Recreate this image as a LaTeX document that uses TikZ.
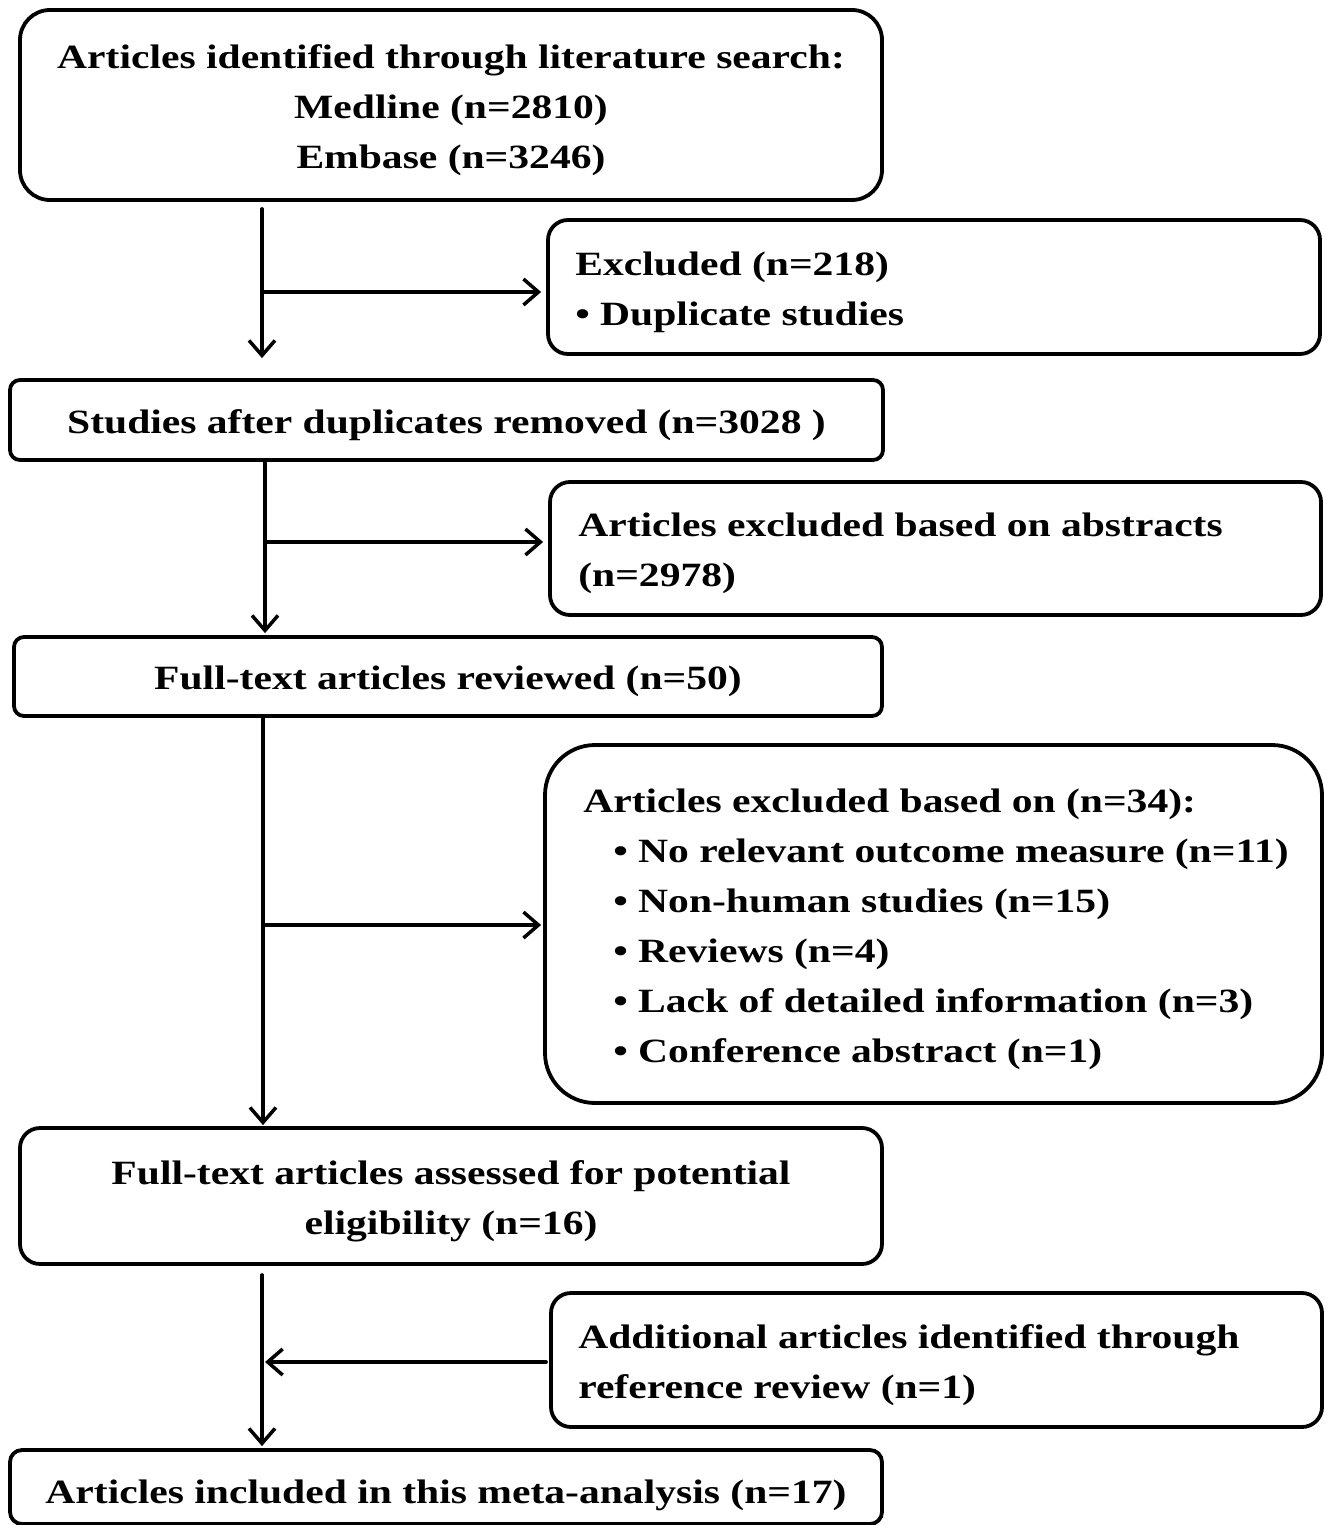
\documentclass[tikz,border=0pt]{standalone}
\usepackage{fontspec}
\setmainfont{Liberation Serif}[FakeStretch=1.223]
\usetikzlibrary{arrows.meta}
\begin{document}
\begin{tikzpicture}[x=1pt,y=-1pt,
  box/.style={draw,line width=3.8pt,inner sep=0pt},
  txt/.style={inner sep=0pt,font=\fontsize{34}{50}\selectfont\bfseries},
  ctxt/.style={txt,align=center,yshift=-5pt},
  ltxt/.style={txt,align=left,anchor=west,yshift=-5pt},
  arr/.style={line width=3.5pt,line cap=round,-{Straight Barb[length=15pt,width=26pt,line width=3.5pt]}}]
\useasboundingbox (0,0) rectangle (1327,1525);
% boxes
\node[box,rounded corners=30pt,minimum width=862pt,minimum height=190pt] (b1) at (451,105) {};
\node[box,rounded corners=20pt,minimum width=772pt,minimum height=134pt] (b2) at (934,287) {};
\node[box,rounded corners=10pt,minimum width=873pt,minimum height=80pt] (b3) at (446.5,420) {};
\node[box,rounded corners=20pt,minimum width=771pt,minimum height=133pt] (b4) at (935.5,548.5) {};
\node[box,rounded corners=10pt,minimum width=868pt,minimum height=79pt] (b5) at (448,676.5) {};
\node[box,rounded corners=50pt,minimum width=777pt,minimum height=358pt] (b6) at (933.5,924) {};
\node[box,rounded corners=20pt,minimum width=862pt,minimum height=136pt] (b7) at (451,1196) {};
\node[box,rounded corners=20pt,minimum width=771pt,minimum height=134pt] (b8) at (936.5,1360) {};
\node[box,rounded corners=12pt,minimum width=872pt,minimum height=74pt] (b9) at (446,1487) {};
% texts
\node[ctxt] (t1) at (b1.center)
  {Articles identified through literature search:\\Medline (n=2810)\\Embase (n=3246)};
\node[ltxt,xshift=29pt] (t2) at (b2.west) {Excluded (n=218)\\• Duplicate studies};
\node[ctxt] (t3) at (b3.center) {Studies after duplicates removed (n=3028 )};
\node[ltxt,xshift=30pt] (t4) at (b4.west) {Articles excluded based on abstracts\\(n=2978)};
\node[ctxt] (t5) at (b5.center) {Full-text articles reviewed (n=50)};
\node[ltxt,xshift=40pt] (t6) at (b6.west)
  {Articles excluded based on (n=34):\\
   \hspace*{30pt}• No relevant outcome measure (n=11)\\
   \hspace*{30pt}• Non-human studies (n=15)\\
   \hspace*{30pt}• Reviews (n=4)\\
   \hspace*{30pt}• Lack of detailed information (n=3)\\
   \hspace*{30pt}• Conference abstract (n=1)};
\node[ctxt] (t7) at (b7.center) {Full-text articles assessed for potential\\eligibility (n=16)};
\node[ltxt,xshift=29pt] (t8) at (b8.west) {Additional articles identified through\\reference review (n=1)};
\node[ctxt,yshift=-3pt] (t9) at (b9.center) {Articles included in this meta-analysis (n=17)};
% junctions
\coordinate (j1) at (262,292);
\coordinate (j2) at (265,542);
\coordinate (j3) at (263,925);
\coordinate (j4) at (265,1362);
\draw[arr,shorten <=7pt,shorten >=20pt] (b1.south -| j1) -- (b3.north -| j1);
\draw[arr,shorten >=5pt] (j1) -- (b2.west |- j1);
\draw[arr,shorten >=2pt] (b3.south -| j2) -- (b5.north -| j2);
\draw[arr,shorten >=5pt] (j2) -- (b4.west |- j2);
\draw[arr,shorten >=1pt] (b5.south -| j3) -- (b7.north -| j3);
\draw[arr,shorten >=2pt] (j3) -- (b6.west |- j3);
\draw[arr,shorten <=9pt,shorten >=2pt] (b7.south -| 262,0) -- (b9.north -| 262,0);
\draw[arr,shorten <=3pt] (b8.west |- j4) -- (j4);
\end{tikzpicture}
\end{document}
